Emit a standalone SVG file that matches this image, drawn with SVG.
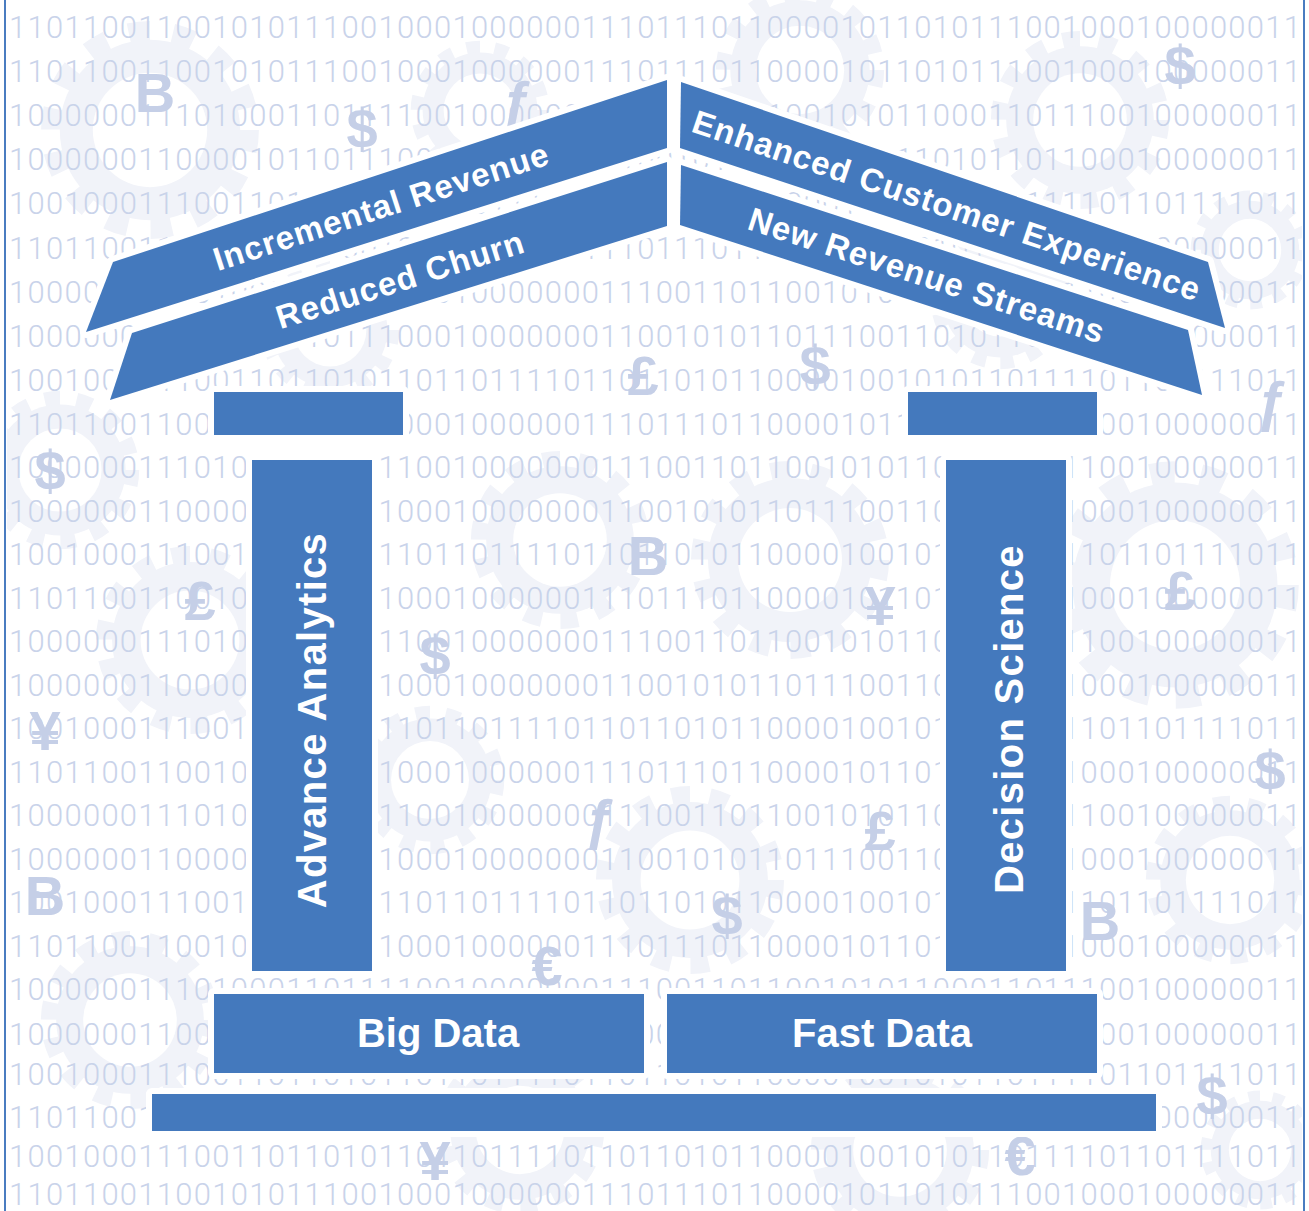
<svg xmlns="http://www.w3.org/2000/svg" xmlns:xlink="http://www.w3.org/1999/xlink" width="1309" height="1211" viewBox="0 0 1309 1211">
  <defs>
    <style>
      .bin { font-family: Roboto, "Liberation Sans", sans-serif; font-weight: 300; font-size: 31px; fill: #c9d3ea; }
      .cur { font-family: "Liberation Sans", Arial, sans-serif; font-weight: 700; font-size: 56px; fill: #c5cfe7; text-anchor: middle; }
      .blk { fill: #4479bd; stroke: #ffffff; stroke-width: 12; paint-order: stroke; stroke-linejoin: round; }
      .lbl { font-family: "Liberation Sans", Arial, sans-serif; font-weight: 700; fill: #ffffff; text-anchor: middle; }
      .roof { font-size: 33px; letter-spacing: 1px; }
      .col { font-size: 40px; letter-spacing: 1.3px; }
      .base { font-size: 40px; }
      .frame { stroke: #4a7cc0; stroke-width: 2; }
    </style>
    <!-- faint cog used in the backdrop -->
    <g id="gear">
      <circle r="88" fill="none" stroke="#f1f3f9" stroke-width="22" stroke-dasharray="19 20.5"/>
      <circle r="82" fill="#f1f3f9"/>
      <circle r="52" fill="#ffffff"/>
    </g>
    <clipPath id="field">
      <rect x="7" y="0" width="1295" height="1211"/>
    </clipPath>
  </defs>

  <rect width="1309" height="1211" fill="#ffffff"/>

  <!-- backdrop: cogs, binary rows, currency signs -->
  <g id="backdrop" clip-path="url(#field)">
    <g id="gears">
      <use xlink:href="#gear" transform="translate(150,130) scale(1.1)"/>
      <use xlink:href="#gear" transform="translate(480,110) scale(0.7)"/>
      <use xlink:href="#gear" transform="translate(800,70) scale(0.85)"/>
      <use xlink:href="#gear" transform="translate(1080,120) scale(0.9)"/>
      <use xlink:href="#gear" transform="translate(1250,250) scale(0.6)"/>
      <use xlink:href="#gear" transform="translate(330,330) scale(0.7)"/>
      <use xlink:href="#gear" transform="translate(1000,300) scale(0.7)"/>
      <use xlink:href="#gear" transform="translate(60,470) scale(0.8)"/>
      <use xlink:href="#gear" transform="translate(190,640) scale(0.95)"/>
      <use xlink:href="#gear" transform="translate(560,540) scale(0.9)"/>
      <use xlink:href="#gear" transform="translate(790,560) scale(1.0)"/>
      <use xlink:href="#gear" transform="translate(1175,585) scale(1.25)"/>
      <use xlink:href="#gear" transform="translate(430,780) scale(0.75)"/>
      <use xlink:href="#gear" transform="translate(690,880) scale(0.95)"/>
      <use xlink:href="#gear" transform="translate(1230,880) scale(0.85)"/>
      <use xlink:href="#gear" transform="translate(130,1020) scale(0.9)"/>
      <use xlink:href="#gear" transform="translate(520,1130) scale(0.85)"/>
      <use xlink:href="#gear" transform="translate(900,1150) scale(0.9)"/>
      <use xlink:href="#gear" transform="translate(1260,1150) scale(0.6)"/>
    </g>

    <g id="binary" class="bin">
      <text x="9" y="38" textLength="1292" lengthAdjust="spacing">1101100110010101110010001000000111011101100001011010111001000100000011</text>
      <text x="9" y="82" textLength="1292" lengthAdjust="spacing">1101100110010101110010001000000111011101100001011010111001000100000011</text>
      <text x="9" y="126" textLength="1292" lengthAdjust="spacing">1000000111010001101111001000000011100110110010101100011011100100000011</text>
      <text x="9" y="170" textLength="1292" lengthAdjust="spacing">1000000110000101101110001000000011001010110111001101011011000100000011</text>
      <text x="9" y="214" textLength="1292" lengthAdjust="spacing">1001000111001101101011011011110110110101100001001010110111101101111011</text>
      <text x="9" y="259" textLength="1292" lengthAdjust="spacing">1101100110010101110010001000000111011101100001011010111001000100000011</text>
      <text x="9" y="303" textLength="1292" lengthAdjust="spacing">1000000111010001101111001000000011100110110010101100011011100100000011</text>
      <text x="9" y="347" textLength="1292" lengthAdjust="spacing">1000000110000101101110001000000011001010110111001101011011000100000011</text>
      <text x="9" y="391" textLength="1292" lengthAdjust="spacing">1001000111001101101011011011110110110101100001001010110111101101111011</text>
      <text x="9" y="435" textLength="1292" lengthAdjust="spacing">1101100110010101110010001000000111011101100001011010111001000100000011</text>
      <text x="9" y="478" textLength="1292" lengthAdjust="spacing">1000000111010001101111001000000011100110110010101100011011100100000011</text>
      <text x="9" y="522" textLength="1292" lengthAdjust="spacing">1000000110000101101110001000000011001010110111001101011011000100000011</text>
      <text x="9" y="565" textLength="1292" lengthAdjust="spacing">1001000111001101101011011011110110110101100001001010110111101101111011</text>
      <text x="9" y="609" textLength="1292" lengthAdjust="spacing">1101100110010101110010001000000111011101100001011010111001000100000011</text>
      <text x="9" y="652" textLength="1292" lengthAdjust="spacing">1000000111010001101111001000000011100110110010101100011011100100000011</text>
      <text x="9" y="696" textLength="1292" lengthAdjust="spacing">1000000110000101101110001000000011001010110111001101011011000100000011</text>
      <text x="9" y="739" textLength="1292" lengthAdjust="spacing">1001000111001101101011011011110110110101100001001010110111101101111011</text>
      <text x="9" y="783" textLength="1292" lengthAdjust="spacing">1101100110010101110010001000000111011101100001011010111001000100000011</text>
      <text x="9" y="826" textLength="1292" lengthAdjust="spacing">1000000111010001101111001000000011100110110010101100011011100100000011</text>
      <text x="9" y="870" textLength="1292" lengthAdjust="spacing">1000000110000101101110001000000011001010110111001101011011000100000011</text>
      <text x="9" y="913" textLength="1292" lengthAdjust="spacing">1001000111001101101011011011110110110101100001001010110111101101111011</text>
      <text x="9" y="957" textLength="1292" lengthAdjust="spacing">1101100110010101110010001000000111011101100001011010111001000100000011</text>
      <text x="9" y="1000" textLength="1292" lengthAdjust="spacing">1000000111010001101111001000000011100110110010101100011011100100000011</text>
      <text x="9" y="1045" textLength="1292" lengthAdjust="spacing">1000000110000101101110001000000011001010110111001101011011000100000011</text>
      <text x="9" y="1085" textLength="1292" lengthAdjust="spacing">1001000111001101101011011011110110110101100001001010110111101101111011</text>
      <text x="9" y="1128" textLength="1292" lengthAdjust="spacing">1101100110010101110010001000000111011101100001011010111001000100000011</text>
      <text x="9" y="1167" textLength="1292" lengthAdjust="spacing">1001000111001101101011011011110110110101100001001010110111101101111011</text>
      <text x="9" y="1205" textLength="1292" lengthAdjust="spacing">1101100110010101110010001000000111011101100001011010111001000100000011</text>
    </g>

    <g id="currency" class="cur">
      <text x="155" y="112">B</text>
      <text x="362" y="148">$</text>
      <text x="517" y="120">ƒ</text>
      <text x="1180" y="85">$</text>
      <text x="50" y="490">$</text>
      <text x="200" y="620">£</text>
      <text x="435" y="675">$</text>
      <text x="648" y="575">B</text>
      <text x="880" y="625">¥</text>
      <text x="643" y="395">£</text>
      <text x="815" y="385">$</text>
      <text x="45" y="750">¥</text>
      <text x="600" y="838">ƒ</text>
      <text x="880" y="850">£</text>
      <text x="1180" y="610">£</text>
      <text x="1270" y="790">$</text>
      <text x="45" y="915">B</text>
      <text x="727" y="935">$</text>
      <text x="547" y="985">€</text>
      <text x="1100" y="940">B</text>
      <text x="1212" y="1115">$</text>
      <text x="435" y="1180">¥</text>
      <text x="1020" y="1175">€</text>
      <text x="1272" y="420">ƒ</text>
    </g>
  </g>

  <!-- side rules of the panel -->
  <line class="frame" x1="5" y1="0" x2="5" y2="1211"/>
  <line class="frame" x1="1304" y1="0" x2="1304" y2="1211"/>

  <!-- roof -->
  <g id="roof-incremental-revenue">
    <polygon class="blk" points="113,262 667,80 667,148 86,332"/>
    <text class="lbl roof" transform="translate(381,206) rotate(-17.9)" x="0" y="12">Incremental Revenue</text>
  </g>
  <g id="roof-reduced-churn">
    <polygon class="blk" points="132,333 667,162 667,226 110,400"/>
    <text class="lbl roof" transform="translate(400,279) rotate(-17.5)" x="0" y="12">Reduced Churn</text>
  </g>
  <g id="roof-enhanced-customer-experience">
    <polygon class="blk" points="681,82 1208,262 1225,328 680,148"/>
    <text class="lbl roof" transform="translate(947,205) rotate(18.6)" x="0" y="12">Enhanced Customer Experience</text>
  </g>
  <g id="roof-new-revenue-streams">
    <polygon class="blk" points="681,165 1188,330 1202,395 680,225"/>
    <text class="lbl roof" transform="translate(927,275) rotate(18)" x="0" y="12">New Revenue Streams</text>
  </g>

  <!-- capitals -->
  <g id="capital-left">
    <rect class="blk" x="214" y="392" width="189" height="43"/>
  </g>
  <g id="capital-right">
    <rect class="blk" x="908" y="392" width="189" height="43"/>
  </g>

  <!-- columns -->
  <g id="column-advance-analytics">
    <rect class="blk" x="252" y="460" width="120" height="511"/>
    <text class="lbl col" transform="translate(312,720) rotate(-90)" x="0" y="14">Advance Analytics</text>
  </g>
  <g id="column-decision-science">
    <rect class="blk" x="946" y="460" width="120" height="511"/>
    <text class="lbl col" transform="translate(1009,719) rotate(-90)" x="0" y="14">Decision Science</text>
  </g>

  <!-- foundation -->
  <g id="block-big-data">
    <rect class="blk" x="214" y="994" width="430" height="79"/>
    <text class="lbl base" x="438" y="1047">Big Data</text>
  </g>
  <g id="block-fast-data">
    <rect class="blk" x="667" y="994" width="430" height="79"/>
    <text class="lbl base" x="882" y="1047">Fast Data</text>
  </g>
  <g id="plinth">
    <rect class="blk" x="152" y="1094" width="1004" height="37"/>
  </g>
</svg>
